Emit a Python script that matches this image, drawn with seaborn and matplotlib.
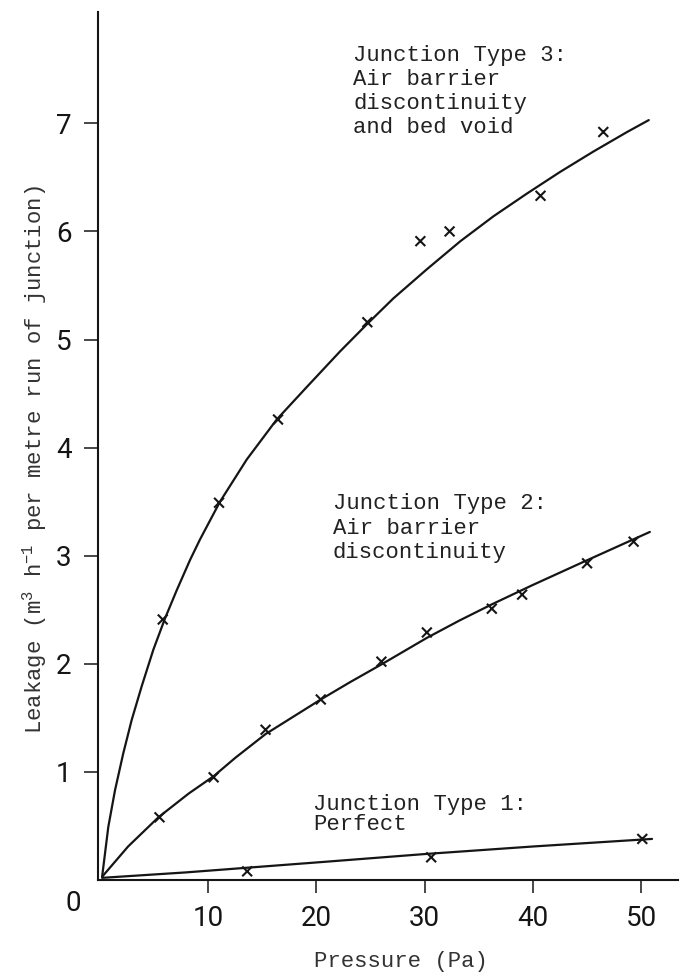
import pandas as pd
import numpy as np
import matplotlib
matplotlib.use('Agg')
import matplotlib.pyplot as plt
import seaborn as sns

# measured leakage points (x marks)
type1_p = [13.6, 30.6, 50.1]
type1_q = [0.08, 0.21, 0.38]
type2_p = [5.5, 10.5, 15.3, 20.4, 26.0, 30.2, 36.2, 39.0, 45.0, 49.3]
type2_q = [0.58, 0.95, 1.39, 1.67, 2.02, 2.29, 2.51, 2.64, 2.93, 3.13]
type3_p = [5.8, 11.0, 16.45, 24.7, 29.6, 32.3, 40.7, 46.5]
type3_q = [2.41, 3.49, 4.26, 5.16, 5.91, 6.00, 6.33, 6.92]

# fitted curves
curve1_p = [0.2, 7.9, 21.0, 30.0, 40.0, 51.0]
curve1_q = [0.02, 0.07, 0.17, 0.24, 0.31, 0.38]
curve2_p = [0.2, 2.6, 5.4, 8.2, 10.5, 12.5, 15.3, 20.4, 23.1, 26.1, 30.2, 33.2,
            36.2, 40.0, 44.6, 50.8]
curve2_q = [0.03, 0.31, 0.58, 0.80, 0.96, 1.13, 1.35, 1.67, 1.83, 2.00, 2.24, 2.40,
            2.55, 2.73, 2.94, 3.22]
curve3_p = [0.2, 0.77, 1.39, 2.15, 2.93, 3.85, 4.93, 6.01, 7.09, 8.32, 9.24, 11.09,
            13.56, 16.33, 19.1, 22.18, 24.65, 27.1, 30.2, 33.3, 36.35, 39.44, 42.5,
            45.6, 48.7, 50.7]
curve3_q = [0.03, 0.49, 0.83, 1.17, 1.48, 1.79, 2.13, 2.42, 2.68, 2.96, 3.15, 3.50,
            3.89, 4.26, 4.56, 4.89, 5.14, 5.38, 5.65, 5.91, 6.14, 6.35, 6.55,
            6.74, 6.92, 7.03]

x_ticks = [10, 20, 30, 40, 50]
y_ticks = [1, 2, 3, 4, 5, 6, 7]

labels = {
    'Type 3': 'Junction Type 3:\nAir barrier\ndiscontinuity\nand bed void',
    'Type 2': 'Junction Type 2:\nAir barrier\ndiscontinuity',
    'Type 1': 'Junction Type 1:\nPerfect',
}

points = pd.concat([
    pd.DataFrame({'p': type1_p, 'q': type1_q, 'junction': 'Type 1'}),
    pd.DataFrame({'p': type2_p, 'q': type2_q, 'junction': 'Type 2'}),
    pd.DataFrame({'p': type3_p, 'q': type3_q, 'junction': 'Type 3'}),
])
curves = pd.concat([
    pd.DataFrame({'p': curve1_p, 'q': curve1_q, 'junction': 'Type 1'}),
    pd.DataFrame({'p': curve2_p, 'q': curve2_q, 'junction': 'Type 2'}),
    pd.DataFrame({'p': curve3_p, 'q': curve3_q, 'junction': 'Type 3'}),
])

sns.set_style('ticks')
mono = ['Liberation Mono', 'DejaVu Sans Mono']
narrow = ['Roboto', 'DejaVu Sans']
plt.rcParams['mathtext.fontset'] = 'custom'
plt.rcParams['mathtext.rm'] = 'Liberation Mono'
plt.rcParams['mathtext.it'] = 'Liberation Mono'

ink = '#151515'
fig = plt.figure(figsize=(6.91, 9.73), dpi=100)
ax = fig.add_axes([98 / 691, 93 / 973, 580 / 691, 868 / 973])

pal = {'Type 1': ink, 'Type 2': ink, 'Type 3': ink}
sns.lineplot(data=curves, x='p', y='q', hue='junction', palette=pal, sort=False,
             estimator=None, linewidth=1.6, legend=False, ax=ax)
sns.scatterplot(data=points, x='p', y='q', hue='junction', palette=pal, marker='x',
                s=50, linewidth=1.5, legend=False, ax=ax, zorder=3)

ax.set_xlim(-0.18, 53.4)
ax.set_ylim(0, 8.03)
ax.set_xticks(x_ticks)
ax.set_yticks(y_ticks)
ax.set_xticklabels([str(v) for v in x_ticks], family=narrow, fontsize=20, color=ink)
ax.set_yticklabels([str(v) for v in y_ticks], family=narrow, fontsize=20, color=ink)
ax.tick_params(axis='x', direction='out', length=9, width=1.1, pad=9, color=ink)
ax.tick_params(axis='y', direction='out', length=10, width=1.1, pad=9, color=ink)
sns.despine(ax=ax)
for side in ['left', 'bottom']:
    ax.spines[side].set_linewidth(1.5)
    ax.spines[side].set_color(ink)

ax.text(-2.5, -0.22, '0', family=narrow, fontsize=20, color=ink,
        ha='center', va='center', clip_on=False)

ax.set_xlabel('')
ax.set_ylabel('')
fig.text(401 / 691, 1 - 962 / 973, 'Pressure (Pa)', family=mono, fontsize=16,
         color='#333333', ha='center', va='center')
fig.text(35 / 691, 1 - 460 / 973, 'Leakage (m$^{3}$ h$^{-1}$ per metre run of junction)',
         family=mono, fontsize=16, color='#333333', rotation=90,
         ha='center', va='center')

# annotation blocks: left x, block centre y (data units), line spacing
spots = {'Type 3': (23.4, 7.294, 1.17), 'Type 2': (21.5, 3.252, 1.22),
         'Type 1': (19.7, 0.606, 0.93)}
for key, text in labels.items():
    x0, yc, ls = spots[key]
    ax.text(x0, yc, text, family=mono, fontsize=16, color='#222222',
            ha='left', va='center', linespacing=ls)

plt.savefig('out.png', dpi=100, facecolor='white')
plt.close()
